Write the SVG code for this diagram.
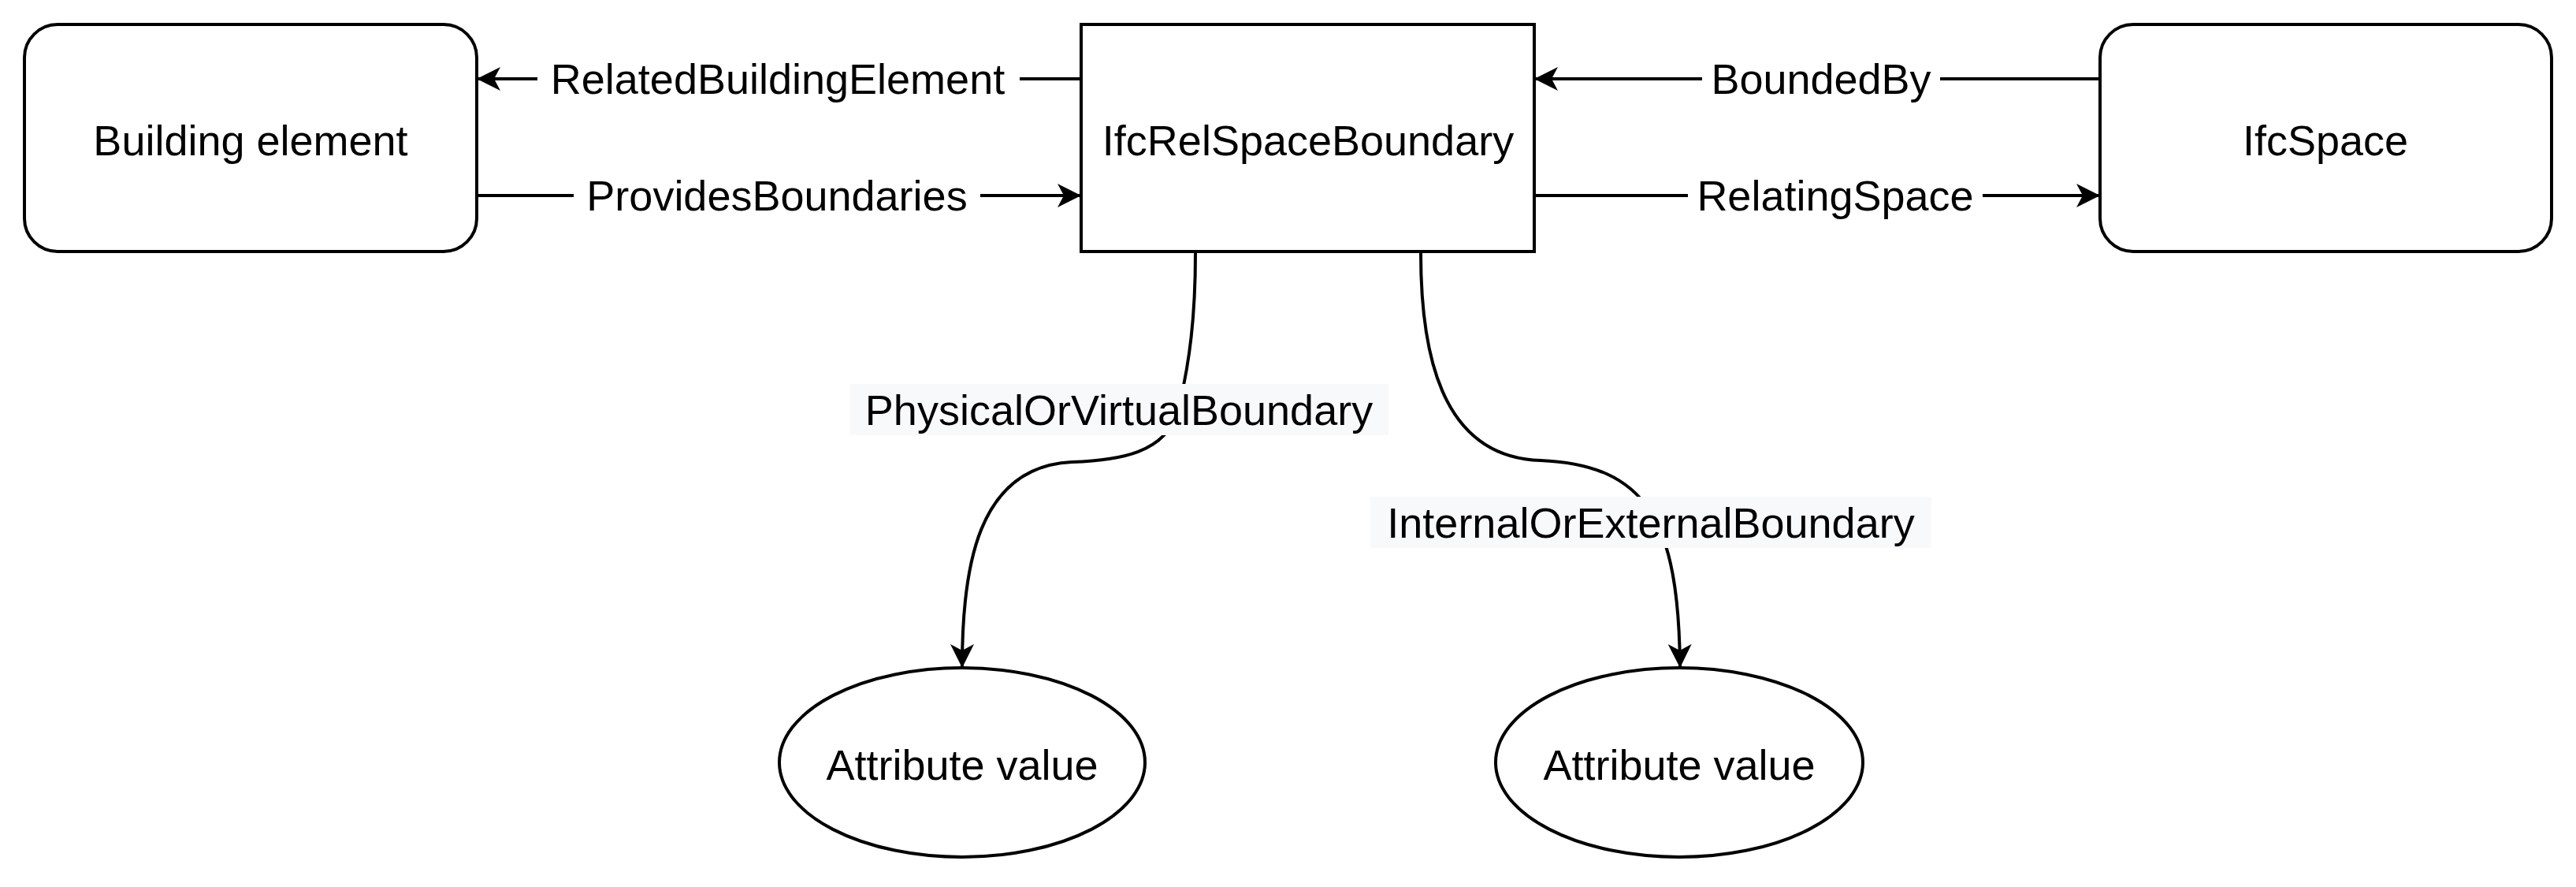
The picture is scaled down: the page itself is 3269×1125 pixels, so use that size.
<svg xmlns="http://www.w3.org/2000/svg" width="3269" height="1125" viewBox="0 0 3269 1125">
<defs>
<style>
.n{fill:#fff;stroke:#000;stroke-width:4}
.e{fill:none;stroke:#000;stroke-width:4}
.t{font-family:"Liberation Sans",Arial,sans-serif;font-size:54px;fill:#000;text-anchor:middle;dominant-baseline:central}
.lb{fill:#fff}
.lg{fill:#f8f9fa}
</style>
<marker id="a" viewBox="0 0 30 30" refX="28" refY="15" markerWidth="30" markerHeight="30" markerUnits="userSpaceOnUse" orient="auto">
<path d="M0,0 L30,15 L0,30 L8,15 Z" fill="#000"/>
</marker>
</defs>
<rect width="3269" height="1125" fill="#fff"/>
<g id="connectors">
<line class="e" x1="1372" y1="100" x2="607" y2="100" marker-end="url(#a)"/>
<line class="e" x1="605" y1="248" x2="1370" y2="248" marker-end="url(#a)"/>
<line class="e" x1="2665" y1="100" x2="1949" y2="100" marker-end="url(#a)"/>
<line class="e" x1="1947" y1="248" x2="2663" y2="248" marker-end="url(#a)"/>
<path class="e" d="M1517,321 C1517,400 1510,460 1495,520 C1480,575 1420,584 1360,586 C1240,592 1221,720 1221,845" marker-end="url(#a)"/>
<path class="e" d="M1803,321 C1803,440 1825,580 1955,584 C2090,590 2130,660 2132,845" marker-end="url(#a)"/>
<rect class="lb" x="682" y="72" width="612" height="56"/>
<text class="t" x="987" y="100">RelatedBuildingElement</text>
<rect class="lb" x="728" y="220" width="516" height="56"/>
<text class="t" x="986" y="248">ProvidesBoundaries</text>
<rect class="lb" x="2160" y="72" width="302" height="56"/>
<text class="t" x="2311" y="100">BoundedBy</text>
<rect class="lb" x="2142" y="220" width="374" height="56"/>
<text class="t" x="2329" y="248">RelatingSpace</text>
<rect class="lg" x="1079" y="487" width="683" height="65"/>
<text class="t" x="1420" y="520">PhysicalOrVirtualBoundary</text>
<rect class="lg" x="1739" y="630" width="712" height="65"/>
<text class="t" x="2095" y="663">InternalOrExternalBoundary</text>
</g>
<g id="building-element">
<rect class="n" x="31" y="31" width="574" height="288" rx="42"/>
<text class="t" x="318" y="178">Building element</text>
</g>
<g id="ifcrelspaceboundary">
<rect class="n" x="1372" y="31" width="575" height="288"/>
<text class="t" x="1660" y="178">IfcRelSpaceBoundary</text>
</g>
<g id="ifcspace">
<rect class="n" x="2665" y="31" width="573" height="288" rx="42"/>
<text class="t" x="2951" y="178">IfcSpace</text>
</g>
<g id="attr1">
<ellipse class="n" cx="1221" cy="967" rx="232" ry="120"/>
<text class="t" x="1221" y="970">Attribute value</text>
</g>
<g id="attr2">
<ellipse class="n" cx="2131" cy="967" rx="233" ry="120"/>
<text class="t" x="2131" y="970">Attribute value</text>
</g>
</svg>
